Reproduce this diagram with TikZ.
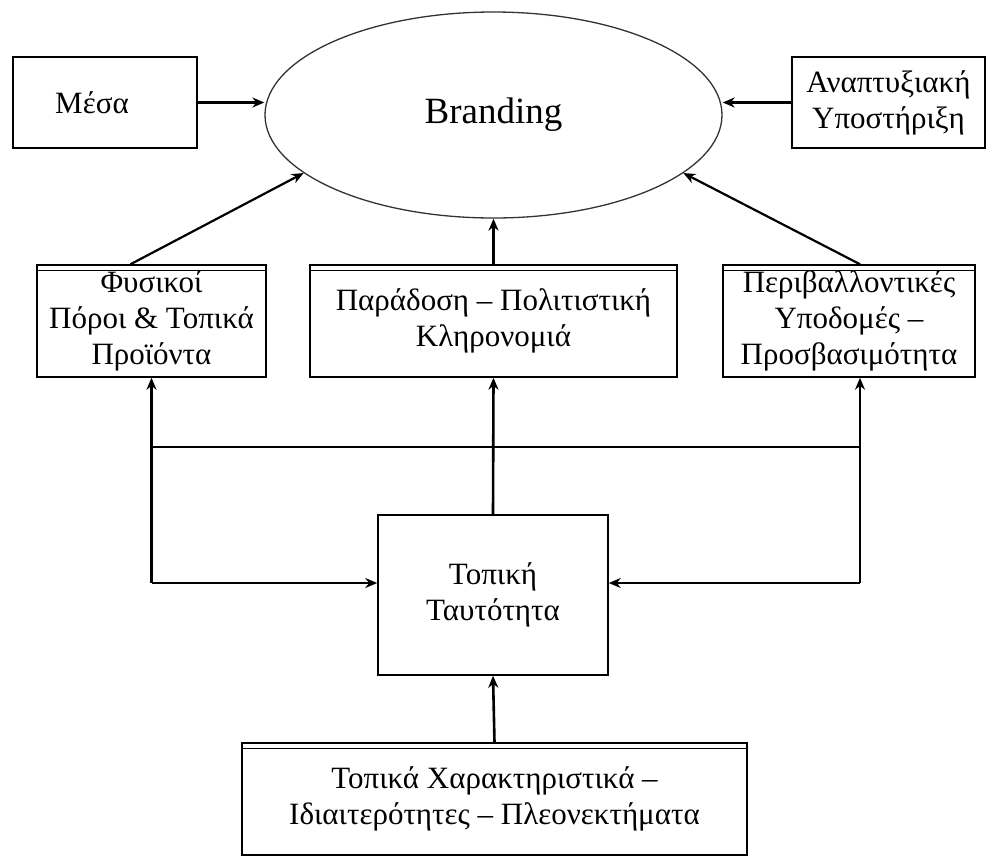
\documentclass[tikz,border=0pt]{standalone}
\usepackage{fontspec}
\setmainfont{Liberation Serif}
\usetikzlibrary{shapes.geometric,arrows.meta}
\begin{document}
\begin{tikzpicture}[x=1pt,y=-1pt,
  box/.style={draw, line width=1.5pt, inner sep=0pt, align=center,
    font=\fontsize{31}{36}\selectfont},
  inner/.style={line width=0.9pt},
  conn/.style={line width=2.6pt},
  arr/.style={line width=2.6pt, -{Stealth[length=12pt,width=10pt]}},
  darr/.style={line width=2.2pt, -{Stealth[length=12pt,width=10pt]}}]
\useasboundingbox (0,0) rectangle (992,863);

% top row
\node[draw, ellipse, line width=1.3pt, draw=black!80, inner sep=0pt,
  minimum width=457, minimum height=206,
  font=\fontsize{37}{42}\selectfont] (brand) at (493.5,115) {Branding};
\node[box, minimum width=184, minimum height=91] (meso) at (105,102.5)
  {Μέσα\hspace*{26pt}};
\node[box, minimum width=193, minimum height=91] (dev) at (888.5,102.5)
  {Αναπτυξιακή\\Υποστήριξη};

% middle row
\node[box, minimum width=229, minimum height=112] (lb) at (151.5,321)
  {Φυσικοί\\Πόροι \& Τοπικά\\Προϊόντα};
\node[box, minimum width=367, minimum height=112] (cb) at (493.5,321)
  {Παράδοση – Πολιτιστική\\Κληρονομιά};
\node[box, minimum width=252, minimum height=112] (rb) at (849,321)
  {Περιβαλλοντικές\\Υποδομές –\\Προσβασιμότητα};

% lower
\node[box, minimum width=230, minimum height=160] (tp) at (493,595)
  {Τοπική\\Ταυτότητα};
\node[box, minimum width=505, minimum height=112] (bb) at (494.5,799)
  {Τοπικά Χαρακτηριστικά –\\Ιδιαιτερότητες – Πλεονεκτήματα};

% inner top lines of the double-framed boxes
\foreach \b in {lb,cb,rb,bb}
  \draw[inner] ([yshift=-6pt]\b.north west) -- ([yshift=-6pt]\b.north east);

% connectors into Branding
\draw[darr] (meso.east) -- (meso.east -| brand.west);
\draw[darr] (dev.west) -- (dev.west -| brand.east);
\draw[darr] ([xshift=-21pt]lb.north) -- (brand.197);
\draw[darr] (cb.north) -- (brand.south);
\draw[darr] ([xshift=11pt]rb.north) -- (brand.343);

% lower network
\coordinate (busy) at (0,447);
\coordinate (sidey) at (0,583);
\draw[arr] (bb.north) -- (tp.south);
\draw[arr] (tp.north) -- (cb.south);
\draw[conn] (lb.south |- busy) -- ([xshift=11pt]rb.south |- busy);
\draw[arr] (lb.south |- sidey) -- (lb.south);
\draw[arr] (lb.south |- sidey) -- (tp.west |- sidey);
\draw[arr] ([xshift=11pt]rb.south |- sidey) -- ([xshift=11pt]rb.south);
\draw[arr] ([xshift=11pt]rb.south |- sidey) -- (tp.east |- sidey);
\end{tikzpicture}
\end{document}
